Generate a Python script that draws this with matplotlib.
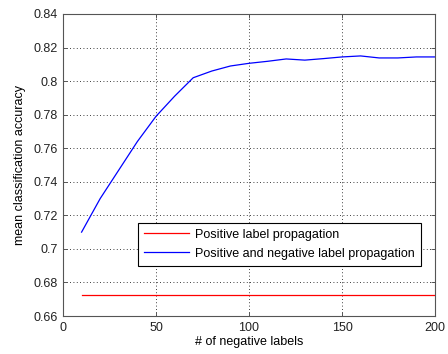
import matplotlib
matplotlib.use("Agg")
import matplotlib.pyplot as plt
from matplotlib.ticker import FormatStrFormatter, MultipleLocator

# data
num_neg = [10, 20, 30, 40, 50, 60, 70, 80, 90, 100, 110, 120, 130, 140, 150,
           160, 170, 180, 190, 200]
acc_pos_neg = [0.710, 0.730, 0.747, 0.764, 0.779, 0.791, 0.802, 0.806, 0.809,
               0.8106, 0.8118, 0.8132, 0.8125, 0.8134, 0.8144, 0.8150, 0.8138,
               0.8138, 0.8144, 0.8144]
acc_pos = [0.6725] * len(num_neg)

labels = ["Positive label propagation",
          "Positive and negative label propagation"]

plt.rcParams["font.family"] = ["Liberation Sans", "DejaVu Sans"]
plt.rcParams["font.size"] = 9

fig = plt.figure(figsize=(4.48, 3.54), dpi=100)
ax = fig.add_axes([0.1406, 0.1073, 0.8304, 0.8532])

ax.plot(num_neg, acc_pos, color="#ff0000", lw=0.9, label=labels[0])
ax.plot(num_neg, acc_pos_neg, color="#0000ff", lw=0.9, label=labels[1])

ax.set_xlim(0, 200)
ax.set_ylim(0.66, 0.84)
ax.xaxis.set_major_locator(MultipleLocator(50))
ax.yaxis.set_major_locator(MultipleLocator(0.02))
ax.yaxis.set_major_formatter(FormatStrFormatter("%g"))
ax.tick_params(direction="in", top=True, right=True, length=3, width=0.6,
               colors="#404040", labelcolor="#222222", labelsize=9, pad=4)
ax.grid(True, color="black", linestyle=(0, (1, 3)), linewidth=0.6)
for sp in ax.spines.values():
    sp.set_color("#555555")
    sp.set_linewidth(0.8)

ax.set_xlabel("# of negative labels", fontsize=9, labelpad=2)
ax.set_ylabel("mean classification accuracy", fontsize=9, labelpad=5)

leg = ax.legend(loc="lower left", bbox_to_anchor=(0.2016, 0.1656),
                borderaxespad=0, fancybox=False, framealpha=1,
                edgecolor="black", handlelength=3.6, handletextpad=0.45,
                borderpad=0.5, labelspacing=0.55, fontsize=9)
leg.get_frame().set_linewidth(0.8)

fig.savefig("out.png", dpi=100, facecolor="white")
